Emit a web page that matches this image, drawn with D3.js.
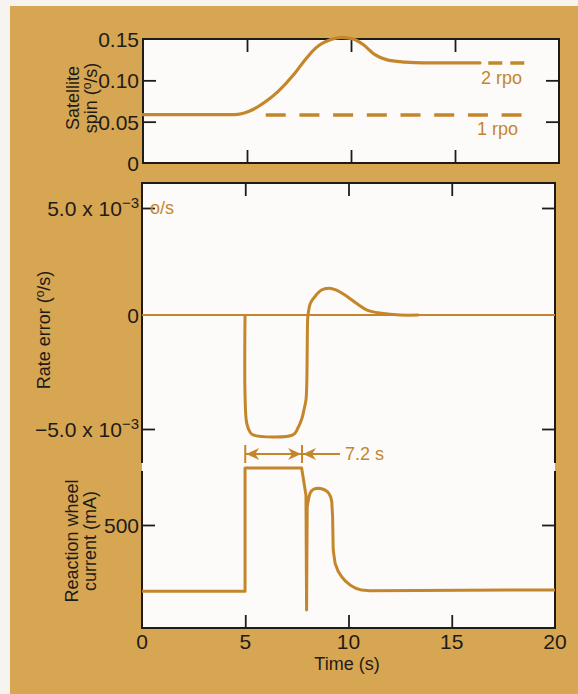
<!DOCTYPE html>
<html>
<head>
<meta charset="utf-8">
<script src="https://cdn.jsdelivr.net/npm/d3@7"></script>
<style>
  html, body { margin: 0; padding: 0; background: #f7f3ef; }
  svg { display: block; font-family: "Liberation Sans", Arial, sans-serif; }
</style>
</head>
<body>
<svg id="chart" width="578" height="694"></svg>
<script>
// time axis
var timeTicks = [0, 5, 10, 15, 20];
var innerTimeTicks = [5, 10, 15];

// satellite spin (deg/s)
var spinTicks = [0, 0.05, 0.10, 0.15];
var spinTickLabels = ['0', '0.05', '0.10', '0.15'];
var spinT = [0, 4.4, 5.1, 5.8, 6.5, 7.25, 7.8, 8.3, 9.0, 9.55, 10.1, 10.6, 11.15, 11.7, 12.6, 13.5, 16.2];
var spinV = [0.0585, 0.0585, 0.0625, 0.0726, 0.0867, 0.107, 0.125, 0.139, 0.149, 0.152, 0.150, 0.143, 0.131, 0.125, 0.122, 0.121, 0.121];
var rpoNames = ['1 rpo', '2 rpo'];
var rpoLevels = [0.058, 0.121];
var rpoStart = [5.9, 16.6];
var rpoEnd = [18.2, 18.5];

// rate error (x 10^-3 deg/s)
var rateTicks = [-5, 0, 5];
var rateT = [4.99, 4.99, 5.07, 5.23, 5.38, 7.31, 7.55, 7.75, 7.84, 7.94, 7.98, 8.0, 8.02, 8.04, 8.16, 8.43, 8.69, 9.06, 9.39, 9.83, 10.36, 10.9, 11.6, 12.5, 13.4];
var rateV = [0, -3.51, -4.74, -5.13, -5.26, -5.26, -4.96, -4.52, -4.17, -3.73, -2.98, -1.54, -0.22, 0, 0.56, 0.93, 1.17, 1.25, 1.17, 0.93, 0.56, 0.23, 0.08, 0, 0];

// reaction wheel current (mA)
var currentTicks = [500];
var curT = [0, 4.99, 4.99, 7.73, 7.94, 7.97, 8.0, 8.07, 8.14, 8.22, 8.3, 8.42, 8.54, 8.7, 8.86, 8.98, 9.07, 9.14, 9.19, 9.23, 9.26, 9.35, 9.5, 9.67, 9.87, 10.07, 10.35, 10.64, 11.04, 20];
var curV = [179, 179, 777, 777, 646, 87, 587, 630, 655, 667, 673, 677, 678, 676, 670, 662, 650, 635, 613, 540, 379, 314, 275, 249, 226, 209, 193, 184, 181, 185];

// annotation
var spanStart = 5.0, spanEnd = 7.75, spanLabel = '7.2 s';

var tan = '#d6a652', gold = '#c4862a', ink = '#1f1b18', paper = '#fdfafa';

var svg = d3.select('#chart');
svg.append('rect').attr('x', 10).attr('y', 6).attr('width', 568).attr('height', 688).attr('fill', tan);

var xTop = d3.scaleLinear().domain([0, 20]).range([143, 559]);
var xBot = d3.scaleLinear().domain([0, 20]).range([142, 555]);
var ySpin = d3.scaleLinear().domain([0, 0.15]).range([163, 39]);
var yRate = d3.scaleLinear().domain([-5, 0, 5]).range([429, 315, 208]);
var yCur = d3.scaleLinear().domain([0, 500]).range([628, 525]);

// plot areas
svg.append('rect').attr('x', 143).attr('y', 39).attr('width', 416).attr('height', 124).attr('fill', paper);
svg.append('rect').attr('x', 142).attr('y', 183).attr('width', 413).attr('height', 445).attr('fill', paper);

function ticks(g, axis) {
  g.call(axis.tickSize(-13).tickFormat(''));
  g.select('.domain').remove();
  g.selectAll('line').attr('stroke', ink).attr('stroke-width', 1.8);
}

// top panel axes
svg.append('g').attr('transform', 'translate(143,0)').call(ticks, d3.axisLeft(ySpin).tickValues([0.05, 0.10]));
svg.append('g').attr('transform', 'translate(559,0)').call(ticks, d3.axisRight(ySpin).tickValues([0.05, 0.10]));
svg.append('g').attr('transform', 'translate(0,39)').call(ticks, d3.axisTop(xTop).tickValues(innerTimeTicks));
svg.append('g').attr('transform', 'translate(0,163)').call(ticks, d3.axisBottom(xTop).tickValues(innerTimeTicks));

// middle panel axes
svg.append('g').attr('transform', 'translate(142,0)').call(ticks, d3.axisLeft(yRate).tickValues([-5, 5]));
svg.append('g').attr('transform', 'translate(555,0)').call(ticks, d3.axisRight(yRate).tickValues([-5, 5]));
svg.append('g').attr('transform', 'translate(0,183)').call(ticks, d3.axisTop(xBot).tickValues(innerTimeTicks));

// bottom panel axes
svg.append('g').attr('transform', 'translate(142,0)').call(ticks, d3.axisLeft(yCur).tickValues(currentTicks));
svg.append('g').attr('transform', 'translate(555,0)').call(ticks, d3.axisRight(yCur).tickValues(currentTicks));
svg.append('g').attr('transform', 'translate(0,628)').call(ticks, d3.axisBottom(xBot).tickValues(innerTimeTicks));

// frames
svg.append('rect').attr('x', 143).attr('y', 39).attr('width', 416).attr('height', 124)
  .attr('fill', 'none').attr('stroke', ink).attr('stroke-width', 2);
svg.append('path').attr('d', 'M142,463V183H555V463').attr('fill', 'none').attr('stroke', ink).attr('stroke-width', 2);
svg.append('path').attr('d', 'M142,471V628H555V471').attr('fill', 'none').attr('stroke', ink).attr('stroke-width', 2);

// tick labels
var fs = 21;
svg.selectAll('.spinLab').data(spinTicks).enter().append('text')
  .attr('x', 139).attr('y', function (d) { return ySpin(d) + 8; })
  .attr('text-anchor', 'end').attr('font-size', fs).attr('fill', ink)
  .text(function (d, i) { return spinTickLabels[i]; });

svg.selectAll('.rateLab').data(rateTicks).enter().append('text')
  .attr('x', 139).attr('y', function (d) { return yRate(d) + 8; })
  .attr('text-anchor', 'end').attr('font-size', fs).attr('fill', ink)
  .each(function (d) {
    var t = d3.select(this);
    if (d === 0) { t.text('0'); return; }
    t.append('tspan').text((d < 0 ? '\u22125.0' : '5.0') + ' x 10');
    t.append('tspan').attr('dy', -8).attr('font-size', 15).text('\u22123');
  });

svg.selectAll('.curLab').data(currentTicks).enter().append('text')
  .attr('x', 139).attr('y', function (d) { return yCur(d) + 8; })
  .attr('text-anchor', 'end').attr('font-size', fs).attr('fill', ink)
  .text(function (d) { return d; });

svg.selectAll('.timeLab').data(timeTicks).enter().append('text')
  .attr('x', function (d) { return xBot(d); }).attr('y', 649)
  .attr('text-anchor', 'middle').attr('font-size', fs).attr('fill', ink)
  .text(function (d) { return d; });

svg.append('text').attr('x', 347).attr('y', 670).attr('text-anchor', 'middle')
  .attr('font-size', 18).attr('fill', ink).text('Time (s)');

// axis titles
function degTitle(sel, before) {
  sel.append('tspan').text(before + '(');
  sel.append('tspan').attr('dy', -6).attr('font-size', 12).text('o');
  sel.append('tspan').attr('dy', 6).text('/s)');
}
var tf = 18;
svg.append('text').attr('transform', 'translate(79,98) rotate(-90)')
  .attr('text-anchor', 'middle').attr('font-size', tf).attr('fill', ink).text('Satellite');
var t2 = svg.append('text').attr('transform', 'translate(97,98) rotate(-90)')
  .attr('text-anchor', 'middle').attr('font-size', tf).attr('fill', ink);
degTitle(t2, 'spin ');
var t3 = svg.append('text').attr('transform', 'translate(50,330) rotate(-90)')
  .attr('text-anchor', 'middle').attr('font-size', tf).attr('fill', ink);
degTitle(t3, 'Rate error ');
svg.append('text').attr('transform', 'translate(78,541) rotate(-90)')
  .attr('text-anchor', 'middle').attr('font-size', tf).attr('fill', ink).text('Reaction wheel');
svg.append('text').attr('transform', 'translate(96,541) rotate(-90)')
  .attr('text-anchor', 'middle').attr('font-size', tf).attr('fill', ink).text('current (mA)');

// unit note
svg.append('text').attr('x', 150).attr('y', yRate(5) + 6).attr('font-size', 18).attr('fill', gold).text('o/s');

// satellite spin
var spinLine = d3.line().x(function (d) { return xTop(d[0]); }).y(function (d) { return ySpin(d[1]); }).curve(d3.curveMonotoneX);
svg.append('path').datum(d3.zip(spinT, spinV)).attr('d', spinLine)
  .attr('fill', 'none').attr('stroke', gold).attr('stroke-width', 3.2).attr('stroke-linecap', 'round');

svg.selectAll('.rpo').data(rpoLevels).enter().append('line')
  .attr('x1', function (d, i) { return xTop(rpoStart[i]); })
  .attr('x2', function (d, i) { return xTop(rpoEnd[i]); })
  .attr('y1', function (d) { return ySpin(d); }).attr('y2', function (d) { return ySpin(d); })
  .attr('stroke', gold).attr('stroke-width', 3.4)
  .attr('stroke-dasharray', function (d, i) { return i === 0 ? '20,13.7' : '14,8'; });

svg.selectAll('.rpoLab').data(rpoLevels).enter().append('text')
  .attr('x', function (d, i) { return i === 0 ? 518 : 522; })
  .attr('y', function (d, i) { return i === 0 ? ySpin(d) + 20 : ySpin(d) + 21; })
  .attr('text-anchor', 'end').attr('font-size', 18).attr('fill', gold)
  .text(function (d, i) { return rpoNames[i]; });

// rate error
svg.append('line').attr('x1', xBot(0)).attr('x2', xBot(20)).attr('y1', yRate(0)).attr('y2', yRate(0))
  .attr('stroke', gold).attr('stroke-width', 2);
var rateLine = d3.line().x(function (d) { return xBot(d[0]); }).y(function (d) { return yRate(d[1]); })
  .curve(d3.curveCatmullRom.alpha(0.5));
svg.append('path').datum(d3.zip(rateT, rateV)).attr('d', rateLine)
  .attr('fill', 'none').attr('stroke', gold).attr('stroke-width', 3).attr('stroke-linejoin', 'round');

// reaction wheel current
var curLine = d3.line().x(function (d) { return xBot(d[0]); }).y(function (d) { return yCur(d[1]); });
svg.append('path').datum(d3.zip(curT, curV)).attr('d', curLine)
  .attr('fill', 'none').attr('stroke', gold).attr('stroke-width', 3).attr('stroke-linejoin', 'round');

// 7.2 s annotation
var ay = 454;
var xa = xBot(spanStart), xb = xBot(spanEnd);
var ann = svg.append('g').attr('stroke', gold).attr('fill', gold);
ann.append('line').attr('x1', xa).attr('x2', xa).attr('y1', ay - 9).attr('y2', ay + 9).attr('stroke-width', 2);
ann.append('line').attr('x1', xb).attr('x2', xb).attr('y1', ay - 9).attr('y2', ay + 9).attr('stroke-width', 2);
ann.append('line').attr('x1', xa).attr('x2', xb).attr('y1', ay).attr('y2', ay).attr('stroke-width', 2);
ann.append('line').attr('x1', xb).attr('x2', xb + 38).attr('y1', ay).attr('y2', ay).attr('stroke-width', 2);
function head(x, dir) {
  var p = [[x, ay], [x + dir * 13, ay - 6], [x + dir * 9, ay], [x + dir * 13, ay + 6]];
  ann.append('polygon').attr('points', p.map(function (q) { return q.join(','); }).join(' ')).attr('stroke', 'none');
}
head(xa + 1, 1);
head(xb - 1, -1);
head(xb + 1, 1);
svg.append('text').attr('x', xb + 43).attr('y', ay + 6).attr('font-size', 18).attr('fill', gold).text(spanLabel);
</script>
</body>
</html>
